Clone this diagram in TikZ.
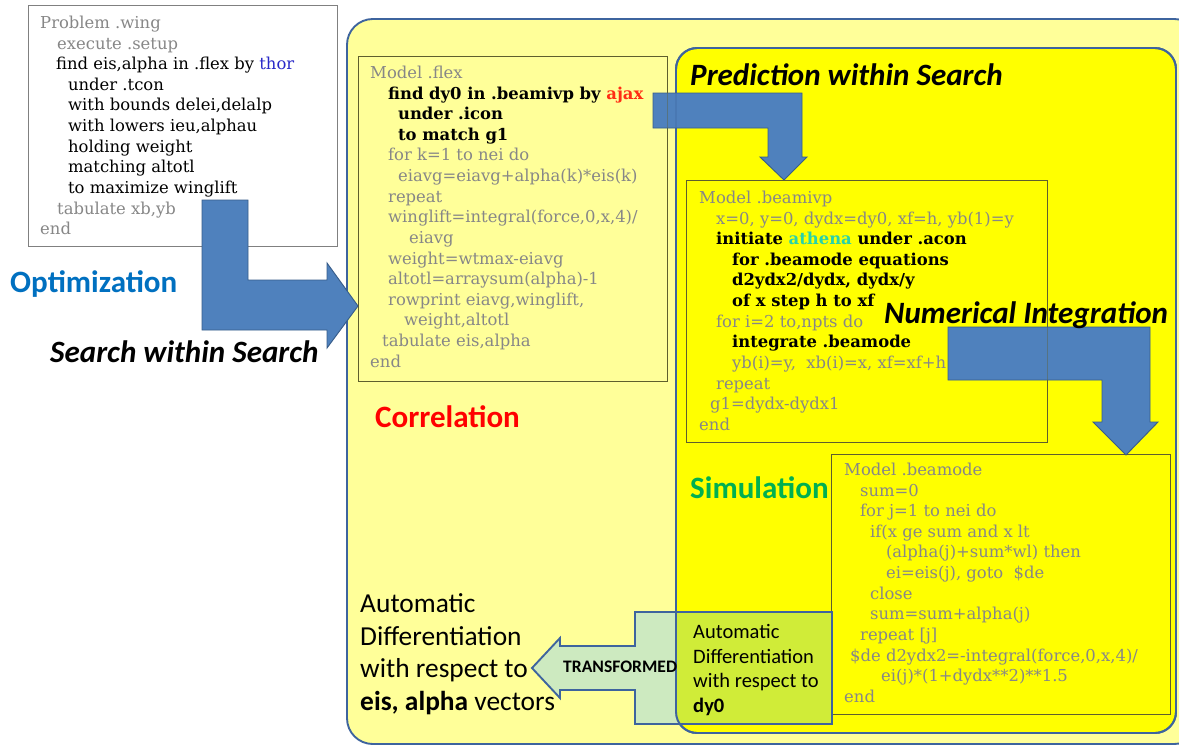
\documentclass[tikz,border=0pt]{standalone}
\usepackage{fontspec}
\setmainfont{DejaVu Serif}
\newfontfamily\calib{Carlito}
\usetikzlibrary{positioning}

\definecolor{paleyellow}{RGB}{255,255,153}
\definecolor{brightyellow}{RGB}{255,255,0}
\definecolor{regionblue}{RGB}{62,100,158}
\definecolor{arrowblue}{RGB}{79,129,189}
\definecolor{arrowedge}{RGB}{56,93,138}
\definecolor{boxline}{RGB}{95,95,45}
\definecolor{codegray}{RGB}{135,135,135}
\definecolor{thorblue}{RGB}{40,40,200}
\definecolor{ajaxred}{RGB}{255,45,20}
\definecolor{athenateal}{RGB}{40,210,170}
\definecolor{optblue}{RGB}{0,112,192}
\definecolor{simgreen}{RGB}{0,176,80}
\definecolor{palegreen}{RGB}{205,234,192}
\definecolor{limegreen}{RGB}{208,236,56}

% one pixel of the layout grid, for indenting code lines
\newlength\pxl
\setlength\pxl{0.85pt}
\newcommand{\ind}[1]{\hspace*{#1\pxl}}

\begin{document}
\begin{tikzpicture}[x=0.03cm,y=-0.03cm,
  codetext/.style={anchor=north west,inner sep=0pt,align=left,
    font=\fontsize{14}{17.6}\selectfont,text=codegray},
  codebox/.style={draw=boxline,line width=0.6pt},
  bigarrow/.style={fill=arrowblue,draw=arrowedge,line width=0.8pt},
  region/.style={draw=regionblue,line width=1.6pt},
  title/.style={anchor=west,inner sep=0pt,font=\calib\bfseries\itshape\fontsize{26.5}{30}\selectfont},
  tag/.style={anchor=west,inner sep=0pt,font=\calib\bfseries\fontsize{26.5}{30}\selectfont},
  adtext/.style={anchor=north west,inner sep=0pt,align=left}]

\useasboundingbox (0,0) rectangle (1179,746);
\clip (0,0) rectangle (1179,746);
\fill[white] (0,0) rectangle (1179,746);

% nested regions
\draw[region,fill=paleyellow,rounded corners=22pt] (347,19) rectangle (1200,744);
\draw[region,fill=brightyellow,rounded corners=18pt] (676,48) rectangle (1176,733);

% problem box
\draw[draw=gray,line width=0.5pt,fill=white] (28,5) rectangle (337,246);
\node[codetext] (wing) at (40,15.8) {Problem .wing\\
\ind{17}execute .setup\\
\ind{16}\textcolor{black}{find eis,alpha in .flex by \textcolor{thorblue}{thor}}\\
\ind{28}\textcolor{black}{under .tcon}\\
\ind{28}\textcolor{black}{with bounds delei,delalp}\\
\ind{28}\textcolor{black}{with lowers ieu,alphau}\\
\ind{28}\textcolor{black}{holding weight}\\
\ind{28}\textcolor{black}{matching altotl}\\
\ind{28}\textcolor{black}{to maximize winglift}\\
\ind{17}tabulate xb,yb\\
end};

% model boxes
\draw[codebox] (358,56) rectangle (667,381);
\node[codetext] (flex) at (370,65.8) {Model .flex\\
\ind{18}\textcolor{black}{\bfseries find dy0 in .beamivp by \textcolor{ajaxred}{ajax}}\\
\ind{28}\textcolor{black}{\bfseries under .icon}\\
\ind{28}\textcolor{black}{\bfseries to match g1}\\
\ind{18}for k=1 to nei do\\
\ind{28}eiavg=eiavg+alpha(k)*eis(k)\\
\ind{18}repeat\\
\ind{18}winglift=integral(force,0,x,4)/\\
\ind{39}eiavg\\
\ind{18}weight=wtmax-eiavg\\
\ind{18}altotl=arraysum(alpha)-1\\
\ind{18}rowprint eiavg,winglift,\\
\ind{34}weight,altotl\\
\ind{12}tabulate eis,alpha\\
end};

\draw[codebox] (686,180) rectangle (1047,442);
\node[codetext] (beamivp) at (699,190.8) {Model .beamivp\\
\ind{17}x=0, y=0, dydx=dy0, xf=h, yb(1)=y\\
\ind{17}\textcolor{black}{\bfseries initiate \textcolor{athenateal}{athena} under .acon}\\
\ind{33}\textcolor{black}{\bfseries for .beamode equations}\\
\ind{33}\textcolor{black}{\bfseries d2ydx2/dydx, dydx/y}\\
\ind{33}\textcolor{black}{\bfseries of x step h to xf}\\
\ind{17}for i=2 to,npts do\\
\ind{33}\textcolor{black}{\bfseries integrate .beamode}\\
\ind{33}yb(i)=y,\ \ xb(i)=x, xf=xf+h\\
\ind{17}repeat\\
\ind{11}g1=dydx-dydx1\\
end};

\draw[codebox] (831,454) rectangle (1170,714);
\node[codetext] (beamode) at (844,462.8) {Model .beamode\\
\ind{16}sum=0\\
\ind{16}for j=1 to nei do\\
\ind{26}if(x ge sum and x lt\\
\ind{42}(alpha(j)+sum*wl) then\\
\ind{42}ei=eis(j), goto \ \$de\\
\ind{26}close\\
\ind{26}sum=sum+alpha(j)\\
\ind{16}repeat [j]\\
\ind{6}\$de d2ydx2=-integral(force,0,x,4)/\\
\ind{37}ei(j)*(1+dydx**2)**1.5\\
end};

% transformed callout, tinted where it sits on the inner region
\fill[palegreen] (832,612) -- (635,612) -- (635,646) -- (560,646) -- (560,638)
  -- (532,668) -- (560,698) -- (560,690) -- (635,690) -- (635,724) -- (832,724) -- cycle;
\begin{scope}
  \clip[rounded corners=18pt] (676,48) rectangle (1176,733);
  \fill[limegreen] (676,612) rectangle (832,724);
\end{scope}
\draw[region] (832,612) -- (635,612) -- (635,646) -- (560,646) -- (560,638)
  -- (532,668) -- (560,698) -- (560,690) -- (635,690) -- (635,724) -- (832,724) -- cycle;
\draw[region,rounded corners=18pt] (676,48) rectangle (1176,733);

% block arrows
\draw[bigarrow] (202,200) -- (248,200) -- (248,280) -- (327,280) -- (327,263)
  -- (358,306) -- (327,348) -- (327,330) -- (202,330) -- cycle;
\draw[bigarrow] (653,93) -- (802,93) -- (802,157) -- (807,157) -- (784,180)
  -- (760,157) -- (768,157) -- (768,128) -- (653,128) -- cycle;
\draw[bigarrow] (948,327) -- (1150,327) -- (1150,422) -- (1158,422) -- (1126,455)
  -- (1093,422) -- (1102,422) -- (1102,380) -- (948,380) -- cycle;

% box edges show faintly through the arrows
\draw[codebox,draw opacity=0.4] (358,56) rectangle (667,381);
\draw[codebox,draw opacity=0.4] (686,180) rectangle (1047,442);
\draw[region,draw opacity=0.3,rounded corners=18pt] (676,48) rectangle (1176,733);

% labels
\node[tag,text=optblue] (opt) at (10,284) {Optimization};
\node[title] (srch) at (50,352) {Search within Search};
\node[title] (pred) at (690,75) {Prediction within Search};
\node[title] (numint) at (884,315) {Numerical Integration};
\node[tag,text=red] (corr) at (375,417) {Correlation};
\node[tag,text=simgreen] (sim) at (690,488) {Simulation};

\node[adtext,font=\calib\fontsize{23.4}{27.8}\selectfont] (adbig) at (360,593.5)
  {Automatic\\Differentiation\\with respect to\\\textbf{eis, alpha} vectors};
\node[adtext,font=\calib\fontsize{17.5}{21}\selectfont] (adsmall) at (693,624)
  {Automatic\\Differentiation\\with respect to\\\textbf{dy0}};
\node[anchor=west,inner sep=0pt,font=\calib\bfseries\fontsize{15}{17}\selectfont] (trans)
  at (563,667) {TRANSFORMED};

\end{tikzpicture}
\end{document}
